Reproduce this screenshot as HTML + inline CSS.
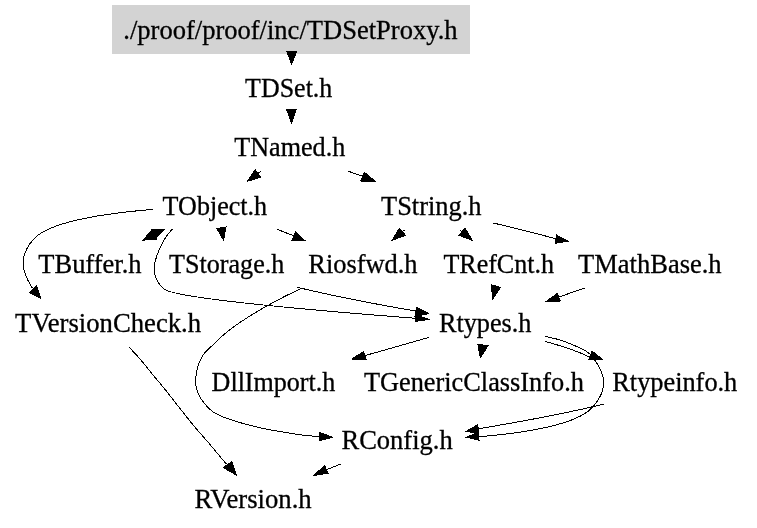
<!DOCTYPE html>
<html><head><meta charset="utf-8"><style>
html,body{margin:0;padding:0;background:#fff;}
svg{display:block;will-change:transform;}
text{font-family:"Liberation Serif",serif;font-size:26.3px;fill:#000;stroke:#000;stroke-width:0.3px;}
</style></head><body>
<svg width="757" height="528" viewBox="0 0 757 528">
<rect width="757" height="528" fill="#fff"/>
<g shape-rendering="crispEdges">
<rect x="112" y="5" width="358" height="49" fill="#d3d3d3"/>
<path d="M291.60,53.90C291.60,54.10 291.60,54.40 291.60,54.60" fill="none" stroke="#000" stroke-width="1"/>
<polygon points="296.50,51.60 291.70,64.20 286.90,51.60" fill="#000" stroke="#000" stroke-width="1"/>
<path d="M291.40,112.90C291.40,113.10 291.40,113.30 291.40,113.50" fill="none" stroke="#000" stroke-width="1"/>
<polygon points="296.10,109.90 291.40,123.20 286.80,109.90" fill="#000" stroke="#000" stroke-width="1"/>
<path d="M261.00,171.10C260.00,171.80 259.00,172.60 258.00,173.30" fill="none" stroke="#000" stroke-width="1"/>
<polygon points="260.70,177.10 247.20,181.40 255.10,169.60" fill="#000" stroke="#000" stroke-width="1"/>
<path d="M348.30,171.20C353.10,172.90 357.90,174.60 362.70,176.40" fill="none" stroke="#000" stroke-width="1"/>
<polygon points="364.40,172.40 375.50,181.40 360.60,181.00" fill="#000" stroke="#000" stroke-width="1"/>
<path d="M172.50,229.00C169.40,232.00 166.70,235.50 164.60,239.20 152.90,259.70 149.00,276.30 164.00,288.80 172.50,298.20 322.70,311.10 415.40,318.30" fill="none" stroke="#000" stroke-width="1"/>
<polygon points="416.00,314.60 428.50,319.40 415.20,321.50" fill="#000" stroke="#000" stroke-width="1"/>
<path d="M221.10,229.90C221.20,230.20 221.20,230.40 221.20,230.60" fill="none" stroke="#000" stroke-width="1"/>
<polygon points="226.00,227.00 223.50,240.20 217.00,228.60" fill="#000" stroke="#000" stroke-width="1"/>
<path d="M152.80,209.40C105.90,213.30 48.30,221.80 33.00,239.80 19.10,256.30 20.80,270.20 32.30,288.00 32.40,288.10 32.50,288.20 32.50,288.40" fill="none" stroke="#000" stroke-width="1"/>
<polygon points="36.60,285.60 41.00,298.60 29.30,292.80" fill="#000" stroke="#000" stroke-width="1"/>
<path d="M277.30,229.40C282.40,231.40 287.70,233.40 292.90,235.50" fill="none" stroke="#000" stroke-width="1"/>
<polygon points="295.80,232.00 304.60,240.30 291.50,240.70" fill="#000" stroke="#000" stroke-width="1"/>
<path d="M152.30,235.20C152.20,235.20 152.10,235.30 152.00,235.40" fill="none" stroke="#000" stroke-width="1"/>
<polygon points="151.50,229.80 164.30,229.50 155.80,238.60" fill="#000" stroke="#000" stroke-width="1"/>
<polygon points="156.50,239.20 142.70,240.20 152.40,230.00" fill="#000" stroke="#000" stroke-width="1"/>
<path d="M404.40,230.00C403.80,230.60 403.20,231.10 402.50,231.60" fill="none" stroke="#000" stroke-width="1"/>
<polygon points="405.40,235.30 392.20,240.30 399.40,228.20" fill="#000" stroke="#000" stroke-width="1"/>
<path d="M459.80,230.00C460.50,230.60 461.10,231.10 461.80,231.60" fill="none" stroke="#000" stroke-width="1"/>
<polygon points="465.00,228.20 472.30,240.30 459.10,235.40" fill="#000" stroke="#000" stroke-width="1"/>
<path d="M493.10,223.00C511.80,227.20 532.60,232.60 555.50,238.60" fill="none" stroke="#000" stroke-width="1"/>
<polygon points="556.50,235.00 567.90,241.20 555.30,243.30" fill="#000" stroke="#000" stroke-width="1"/>
<path d="M545.00,341.40C562.00,346.00 580.00,351.50 594.50,359.60 606.50,376.20 607.40,390.60 592.60,407.20 577.50,424.40 525.80,432.80 479.00,436.80" fill="none" stroke="#000" stroke-width="1"/>
<polygon points="479.00,440.20 466.30,437.20 478.30,432.40" fill="#000" stroke="#000" stroke-width="1"/>
<path d="M428.90,337.40C409.80,342.70 388.60,348.70 365.00,355.60" fill="none" stroke="#000" stroke-width="1"/>
<polygon points="366.00,359.30 351.70,359.00 363.70,351.60" fill="#000" stroke="#000" stroke-width="1"/>
<path d="M545.00,336.40C547.47,336.98 554.87,338.37 559.80,339.90C564.73,341.43 570.47,343.87 574.60,345.60C578.73,347.33 582.03,348.87 584.60,350.30C587.17,351.73 589.10,353.55 590.00,354.20" fill="none" stroke="#000" stroke-width="1"/>
<polygon points="592.10,351.20 602.20,359.20 589.00,359.60" fill="#000" stroke="#000" stroke-width="1"/>
<path d="M482.00,347.30C482.00,347.50 482.00,347.70 481.90,347.90" fill="none" stroke="#000" stroke-width="1"/>
<polygon points="488.20,345.50 480.30,357.60 477.90,344.60" fill="#000" stroke="#000" stroke-width="1"/>
<path d="M297.20,287.20C298.90,287.70 300.70,288.10 302.40,288.50 340.20,297.60 383.00,305.40 415.30,311.00" fill="none" stroke="#000" stroke-width="1"/>
<polygon points="416.40,307.30 428.60,313.60 414.90,316.30" fill="#000" stroke="#000" stroke-width="1"/>
<path d="M129.20,347.30C130.93,349.17 135.88,354.20 139.60,358.50C143.32,362.80 147.32,368.02 151.50,373.10C155.68,378.18 159.95,383.10 164.70,389.00C169.45,394.90 175.08,402.28 180.00,408.50C184.92,414.72 189.47,420.62 194.20,426.30C198.93,431.98 203.67,437.05 208.40,442.60C213.13,448.15 219.58,456.03 222.60,459.60C225.62,463.17 225.85,463.27 226.50,464.00" fill="none" stroke="#000" stroke-width="1"/>
<polygon points="231.80,461.60 236.20,475.00 223.40,467.60" fill="#000" stroke="#000" stroke-width="1"/>
<path d="M301.60,288.40C298.83,289.72 290.40,293.58 285.00,296.30C279.60,299.02 274.87,301.53 269.20,304.70C263.53,307.87 257.05,311.52 251.00,315.30C244.95,319.08 237.93,323.73 232.90,327.40C227.87,331.07 224.20,334.32 220.80,337.30C217.40,340.28 215.22,342.65 212.50,345.30C209.78,347.95 206.53,350.75 204.50,353.20C202.47,355.65 201.43,357.73 200.30,360.00C199.17,362.27 198.37,364.47 197.70,366.80C197.03,369.13 196.63,371.63 196.30,374.00C195.97,376.37 195.70,378.67 195.70,381.00C195.70,383.33 195.70,385.53 196.30,388.00C196.90,390.47 197.92,393.18 199.30,395.80C200.68,398.42 202.40,401.08 204.60,403.70C206.80,406.32 209.42,409.30 212.50,411.50C215.58,413.70 219.12,415.23 223.10,416.90C227.08,418.57 231.92,420.10 236.40,421.50C240.88,422.90 245.23,424.07 250.00,425.30C254.77,426.53 258.33,427.58 265.00,428.90C271.67,430.22 283.98,432.20 290.00,433.20C296.02,434.20 297.40,434.43 301.10,434.90C304.80,435.37 309.13,435.72 312.20,436.00C315.27,436.28 318.28,436.50 319.50,436.60" fill="none" stroke="#000" stroke-width="1"/>
<polygon points="319.80,432.40 332.50,437.20 319.80,440.60" fill="#000" stroke="#000" stroke-width="1"/>
<path d="M495.60,288.80L495.60,289.00" fill="none" stroke="#000" stroke-width="1"/>
<polygon points="491.50,284.80 500.40,287.30 492.60,299.30" fill="#000" stroke="#000" stroke-width="1"/>
<path d="M584.60,288.10C576.00,291.00 567.30,294.00 558.60,297.30" fill="none" stroke="#000" stroke-width="1"/>
<polygon points="560.20,301.00 546.80,301.10 557.20,293.40" fill="#000" stroke="#000" stroke-width="1"/>
<path d="M341.40,463.80C336.50,465.70 331.60,467.70 326.60,469.70" fill="none" stroke="#000" stroke-width="1"/>
<polygon points="328.00,473.20 313.80,475.60 324.60,465.50" fill="#000" stroke="#000" stroke-width="1"/>
<path d="M603.60,404.20C601.80,404.60 600.10,405.00 598.40,405.40 559.20,414.80 515.20,422.60 478.40,428.80" fill="none" stroke="#000" stroke-width="1"/>
<polygon points="478.90,433.60 466.20,431.30 477.70,424.80" fill="#000" stroke="#000" stroke-width="1"/>
</g>
<g>
<text x="123.30" y="39.00" textLength="334.31" lengthAdjust="spacingAndGlyphs">./proof/proof/inc/TDSetProxy.h</text>
<text x="245.10" y="97.30" textLength="87.22" lengthAdjust="spacingAndGlyphs">TDSet.h</text>
<text x="234.30" y="156.10" textLength="110.93" lengthAdjust="spacingAndGlyphs">TNamed.h</text>
<text x="162.60" y="214.60" textLength="104.52" lengthAdjust="spacingAndGlyphs">TObject.h</text>
<text x="381.00" y="214.60" textLength="100.52" lengthAdjust="spacingAndGlyphs">TString.h</text>
<text x="38.30" y="272.70" textLength="103.20" lengthAdjust="spacingAndGlyphs">TBuffer.h</text>
<text x="169.10" y="272.70" textLength="115.22" lengthAdjust="spacingAndGlyphs">TStorage.h</text>
<text x="308.30" y="272.70" textLength="109.28" lengthAdjust="spacingAndGlyphs">Riosfwd.h</text>
<text x="443.40" y="272.70" textLength="110.59" lengthAdjust="spacingAndGlyphs">TRefCnt.h</text>
<text x="578.10" y="272.70" textLength="143.52" lengthAdjust="spacingAndGlyphs">TMathBase.h</text>
<text x="15.10" y="331.70" textLength="186.02" lengthAdjust="spacingAndGlyphs">TVersionCheck.h</text>
<text x="438.90" y="332.00" textLength="92.61" lengthAdjust="spacingAndGlyphs">Rtypes.h</text>
<text x="211.60" y="391.00" textLength="123.69" lengthAdjust="spacingAndGlyphs">DllImport.h</text>
<text x="363.90" y="391.00" textLength="220.03" lengthAdjust="spacingAndGlyphs">TGenericClassInfo.h</text>
<text x="612.30" y="391.00" textLength="124.99" lengthAdjust="spacingAndGlyphs">Rtypeinfo.h</text>
<text x="341.50" y="448.50" textLength="111.20" lengthAdjust="spacingAndGlyphs">RConfig.h</text>
<text x="194.60" y="508.00" textLength="117.09" lengthAdjust="spacingAndGlyphs">RVersion.h</text>
</g>
</svg>
</body></html>
